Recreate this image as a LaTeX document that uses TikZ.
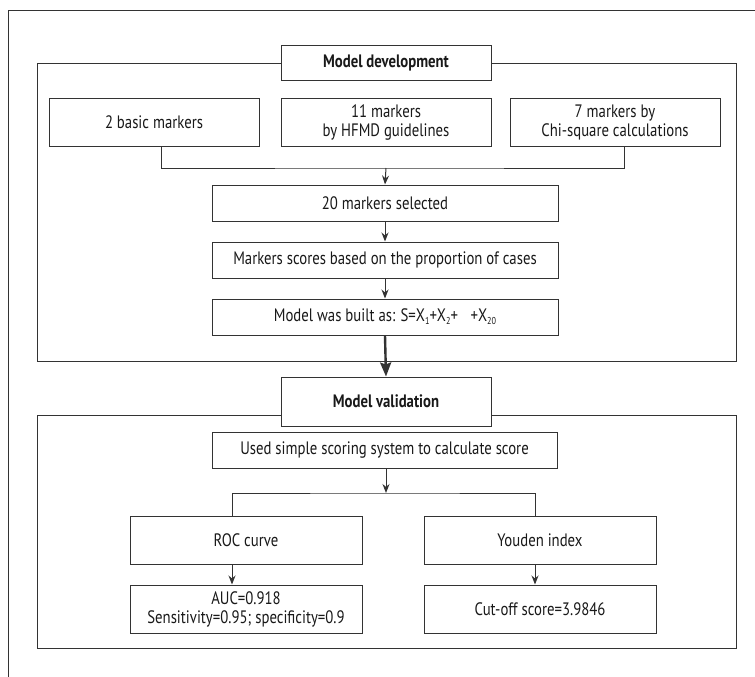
\documentclass[tikz,border=0pt]{standalone}
\usepackage{fontspec}
\setmainfont[FakeStretch=0.82]{PT Sans}
\usetikzlibrary{arrows.meta}
\definecolor{ln}{HTML}{333333}
\tikzset{
  box/.style={draw=ln, line width=1pt, fill=white, align=center, inner sep=0pt, font=\fontsize{18}{19}\selectfont, text=black!90},
  titlebox/.style={box, font=\fontsize{18}{19}\selectfont\bfseries},
  framebox/.style={draw=ln, line width=1pt, inner sep=0pt},
  conn/.style={draw=ln, line width=1pt},
  arr/.style={conn, -{Stealth[length=9pt,width=7pt]}},
  thickarr/.style={draw=ln, line width=2.4pt, -{Stealth[length=14pt,width=11pt,inset=2pt]}}
}
\newcommand{\bx}[6]{\node[#1, minimum width={#5-#3}, minimum height={#6-#4}] (#2) at ({(#3+#5)/2},{(#4+#6)/2}) }
\newcommand{\sbs}[1]{\raisebox{-0.35ex}{\fontsize{10}{10}\selectfont #1}}
\begin{document}
\begin{tikzpicture}[x=1pt,y=-1pt]
\useasboundingbox (0,0) rectangle (755,677);
% outer partial frame
\coordinate (otl) at (8,11);
\coordinate (otr) at (755,11);
\coordinate (obl) at (8,677);
\draw[conn] (otr) -- (otl) -- (obl);
% frames
\bx{framebox}{devframe}{37}{64}{736}{361}{};
\bx{framebox}{valframe}{37}{415}{736}{648}{};
% development
\bx{titlebox}{devtitle}{281}{46}{491}{81}{Model development};
\bx{box}{b1}{49}{98}{259}{146}{2 basic markers};
\bx{box}{b2}{281}{98}{491}{146}{11 markers\\by HFMD guidelines};
\bx{box}{b3}{510}{98}{720}{146}{7 markers by\\Chi-square calculations};
\bx{box}{m20}{212}{185}{558}{221}{20 markers selected};
\bx{box}{scores}{212}{242}{558}{278}{Markers scores based on the proportion of cases};
\bx{box}{built}{212}{299}{558}{335}{Model was built as: S=X\sbs{1}+X\sbs{2}+\hspace{0.7em}+X\sbs{20}};
\coordinate (j1) at (386,168);
\draw[conn] ([xshift=7]b1.south) |- (j1) -| ([xshift=9]b3.south);
\draw[arr] (j1) -- (m20.north);
\draw[arr] (m20) -- (scores);
\draw[arr] (scores) -- (built);
% validation
\bx{titlebox}{valtitle}{281}{377}{491}{426}{Model validation};
\draw[thickarr] (built.south) -- (valtitle.north);
\bx{box}{used}{212}{432}{557}{468}{Used simple scoring system to calculate score};
\bx{box}{roc}{130}{516}{362}{564}{ROC curve};
\bx{box}{youden}{424}{516}{656}{564}{Youden index};
\bx{box}{auc}{130}{585}{362}{633}{AUC=0.918\\Sensitivity=0.95; specificity=0.9};
\bx{box}{cut}{424}{585}{656}{633}{Cut-off score=3.9846};
\coordinate (j2) at (386,493);
\coordinate (rt) at (232,516);
\coordinate (yt) at (535,516);
\draw[arr] (used.south -| j2) -- (j2);
\draw[conn] (rt) |- (j2) -| (yt);
\draw[arr] (roc.south -| rt) -- (auc.north -| rt);
\draw[arr] (youden.south -| yt) -- (cut.north -| yt);
\end{tikzpicture}
\end{document}
